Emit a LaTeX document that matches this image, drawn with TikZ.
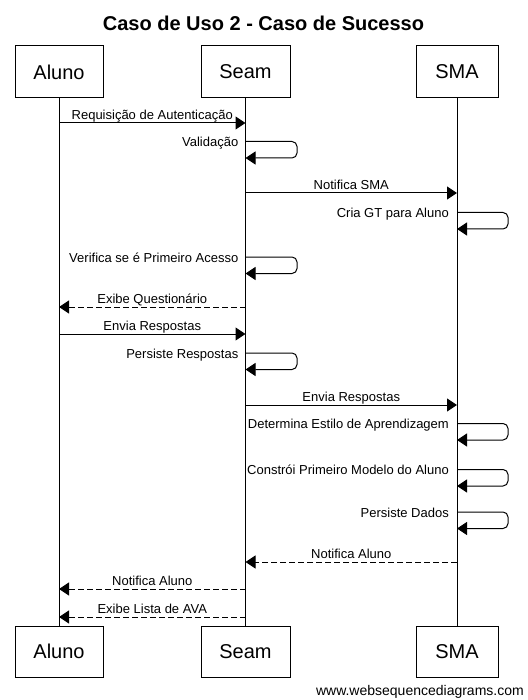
\documentclass[tikz,border=0pt]{standalone}
\usepackage{fontspec}
\setmainfont{Liberation Sans}
\usetikzlibrary{arrows.meta,calc}
\begin{document}
\begin{tikzpicture}[x=1pt,y=-1pt,
  actor/.style={draw,line width=1pt,minimum height=52pt,inner sep=0pt,font=\fontsize{20}{24}\selectfont},
  msg/.style={line width=1pt,-{Triangle[length=10pt,width=13pt]}},
  ret/.style={msg,dash pattern=on 6pt off 3pt},
  lbl/.style={font=\fontsize{13}{15}\selectfont,inner sep=0pt,anchor=base},
  slbl/.style={lbl,anchor=base east},
  selfloop/.style={msg,rounded corners=5pt},
  life/.style={line width=1pt}]
\useasboundingbox (0,0) rectangle (527,700);

% title
\node[anchor=base,font=\bfseries\fontsize{20}{24}\selectfont] (title) at (263.5,30.5) {Caso de Uso 2 - Caso de Sucesso};

% participants
\node[actor,minimum width=88pt] (aT) at (59,72) {Aluno};
\node[actor,minimum width=89pt] (sT) at (245.5,72) {Seam};
\node[actor,minimum width=82pt] (mT) at (457,72) {SMA};
\node[actor,minimum width=88pt,minimum height=51pt] (aB) at (59,651.5) {Aluno};
\node[actor,minimum width=89pt,minimum height=51pt] (sB) at (245.5,651.5) {Seam};
\node[actor,minimum width=82pt,minimum height=51pt] (mB) at (457,651.5) {SMA};

% lifelines
\draw[life] (aT) -- (aB);
\draw[life] (sT) -- (sB);
\draw[life] (mT) -- (mB);

% 1
\draw[msg] (aT.south |- 0,123) -- (sT.south |- 0,123);
\node[lbl] (l1) at (152.25,119.5) {Requisição de Autenticação};
% 2 self Seam
\draw[selfloop] (sT.south |- 0,141.5) -- (297,141.5) -- (297,158) -- (sT.south |- 0,158);
\node[slbl] (l2) at (238.5,147) {Validação};
% 3
\draw[msg] (sT.south |- 0,193) -- (mT.south |- 0,193);
\node[lbl] (l3) at (351.25,189.5) {Notifica SMA};
% 4 self SMA
\draw[selfloop] (mT.south |- 0,212.5) -- (508,212.5) -- (508,229) -- (mT.south |- 0,229);
\node[slbl] (l4) at (449,217.5) {Cria GT para Aluno};
% 5 self Seam
\draw[selfloop] (sT.south |- 0,257) -- (297,257) -- (297,273.5) -- (sT.south |- 0,273.5);
\node[slbl] (l5) at (238.5,262) {Verifica se é Primeiro Acesso};
% 6
\draw[ret] (sT.south |- 0,307) -- (aT.south |- 0,307);
\node[lbl] (l6) at (152.25,303.5) {Exibe Questionário};
% 7
\draw[msg] (aT.south |- 0,334) -- (sT.south |- 0,334);
\node[lbl] (l7) at (152.25,330.5) {Envia Respostas};
% 8 self Seam
\draw[selfloop] (sT.south |- 0,353) -- (297,353) -- (297,369.5) -- (sT.south |- 0,369.5);
\node[slbl] (l8) at (238.5,358) {Persiste Respostas};
% 9
\draw[msg] (sT.south |- 0,405) -- (mT.south |- 0,405);
\node[lbl] (l9) at (351.25,401.5) {Envia Respostas};
% 10 self SMA
\draw[selfloop] (mT.south |- 0,423.5) -- (508,423.5) -- (508,440) -- (mT.south |- 0,440);
\node[slbl] (l10) at (449,428.5) {Determina Estilo de Aprendizagem};
% 11 self SMA
\draw[selfloop] (mT.south |- 0,469.5) -- (508,469.5) -- (508,486) -- (mT.south |- 0,486);
\node[slbl] (l11) at (449,474.5) {Constrói Primeiro Modelo do Aluno};
% 12 self SMA
\draw[selfloop] (mT.south |- 0,512) -- (508,512) -- (508,528.5) -- (mT.south |- 0,528.5);
\node[slbl] (l12) at (449,517) {Persiste Dados};
% 13
\draw[ret] (mT.south |- 0,562) -- (sT.south |- 0,562);
\node[lbl] (l13) at (351.25,558.5) {Notifica Aluno};
% 14
\draw[ret] (sT.south |- 0,589) -- (aT.south |- 0,589);
\node[lbl] (l14) at (152.25,585.5) {Notifica Aluno};
% 15
\draw[ret] (sT.south |- 0,617) -- (aT.south |- 0,617);
\node[lbl] (l15) at (152.25,613.5) {Exibe Lista de AVA};

% watermark
\node[anchor=base east,font=\fontsize{14}{16}\selectfont,inner sep=0pt] (wm) at (524,695.5) {www.websequencediagrams.com};
\end{tikzpicture}
\end{document}
